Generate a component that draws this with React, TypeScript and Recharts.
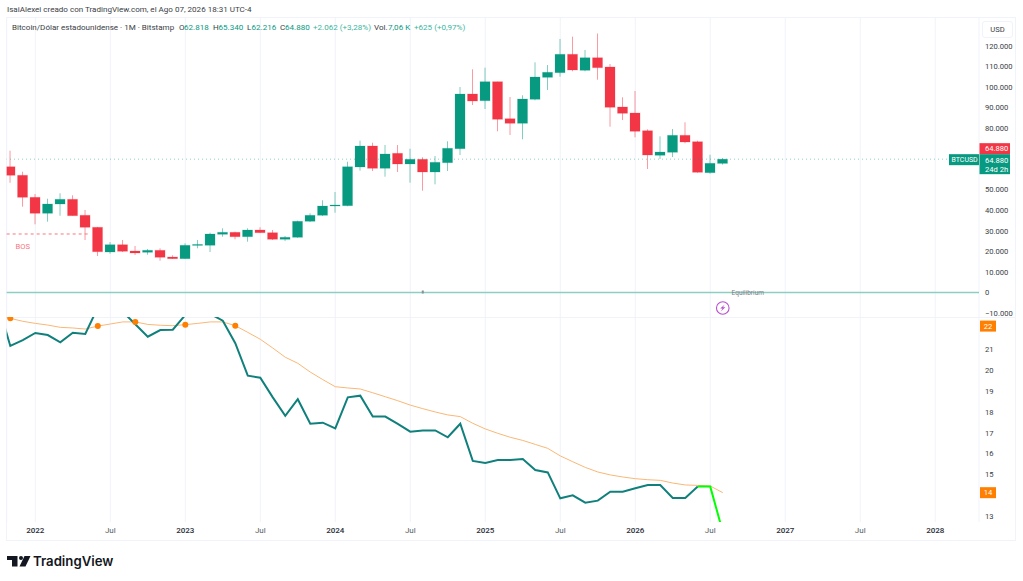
import {
  Bar,
  CartesianGrid,
  ComposedChart,
  Line,
  ReferenceDot,
  ReferenceLine,
  XAxis,
  YAxis,
} from "recharts";

// month number, 0 = Jan 2022; candles start at -2 (Nov 2021)
const opens = [
  61200, 57030, 46320, 38540, 43060, 45350, 37570, 31730, 19700, 23260, 20190, 19560, 20530, 17270, 16450, 23100,
  22970, 28320, 29290, 27150, 30410, 29100, 25890, 26860, 34650, 37570, 42090, 42240, 61070, 71290, 60430, 67730,
  62530, 64820, 58640, 63160, 69970, 96590, 93330, 102580, 84570, 82330, 94010, 104700, 106960, 115910, 108120,
  114250, 109740, 90270, 87340, 78730, 66760, 68220, 76490, 73380, 58300, 62818,
];
const highs = [
  69000, 58780, 47930, 45640, 48270, 47300, 40140, 31900, 24570, 25550, 22630, 21170, 21500, 18100, 23940, 25550,
  29100, 31240, 29580, 31240, 31730, 30410, 27490, 34940, 38540, 44870, 48900, 63650, 73870, 72900, 71770, 71770,
  69970, 65790, 66420, 73570, 100000, 108600, 109400, 102600, 95130, 95960, 112000, 110700, 123360, 124500, 118000,
  126030, 111190, 94980, 98050, 79400, 76000, 79560, 82820, 73870, 67050, 65340,
];
const lows = [
  53400, 41750, 33190, 34450, 37370, 37370, 25550, 17760, 18880, 19700, 18250, 18390, 15470, 16300, 16450, 21510,
  19700, 27150, 25890, 24720, 29000, 25550, 25000, 26600, 34300, 37200, 38830, 42000, 59270, 59120, 56350, 58640,
  53430, 49540, 52650, 59120, 66900, 91240, 89300, 78440, 76640, 74550, 93500, 98540, 105000, 107630, 107630,
  103550, 80680, 83940, 75520, 60100, 64960, 65930, 72600, 58300, 57810, 62216,
];
const closes = [
  57030, 46320, 38540, 43060, 45350, 37370, 31730, 19850, 23260, 20050, 19220, 20530, 17130, 16450, 22970, 23400,
  28470, 29290, 27150, 30410, 29100, 25890, 26860, 34650, 37570, 42090, 42580, 61200, 71290, 60430, 67390, 62530,
  64820, 58640, 63350, 70170, 96590, 93180, 102580, 84280, 82330, 94160, 104860, 107150, 115910, 108270, 114250,
  109400, 90120, 87200, 78440, 66900, 68360, 76490, 73230, 58490, 62870, 64880,
];

// lower pane, starts one month earlier (Oct 2021) because the line enters from off screen
const mainLine = [
  23.2, 21.16, 21.44, 21.78, 21.68, 21.33, 21.79, 21.73, 23.0, 23.5, 22.8, 22.2, 21.6, 21.92, 21.94, 22.64, 22.8,
  22.69, 22.37, 21.29, 19.74, 19.64, 18.7, 17.82, 18.61, 17.44, 17.49, 17.22, 18.7, 18.78, 17.78, 17.78, 17.43,
  17.06, 17.11, 17.12, 16.79, 17.44, 15.66, 15.56, 15.7, 15.7, 15.75, 15.22, 15.11, 13.87, 14.01, 13.66, 13.76,
  14.19, 14.19, 14.35, 14.51, 14.51, 13.89, 13.89, 14.43, 14.43, 12.27,
];
const signalLine = [
  22.6, 22.48, 22.34, 22.24, 22.16, 22.05, 22.02, 21.97, 22.11, 22.21, 22.31, 22.31, 22.19, 22.15, 22.13, 22.18,
  22.24, 22.31, 22.31, 22.13, 21.81, 21.48, 21.06, 20.62, 20.33, 19.91, 19.55, 19.21, 19.15, 19.1, 18.92, 18.73,
  18.54, 18.33, 18.16, 18.0, 17.86, 17.78, 17.46, 17.19, 16.98, 16.79, 16.64, 16.45, 16.26, 15.9, 15.62, 15.35,
  15.13, 14.99, 14.89, 14.81, 14.76, 14.73, 14.6, 14.51, 14.49, 14.46, 14.14,
];
const signalDotMonths = [-2, 5, 8, 12, 16];
const greenFromMonth = 53;

const monthTicks = [0, 6, 12, 18, 24, 30, 36, 42, 48, 54, 60, 66, 72];
const monthLabels = ["2022", "Jul", "2023", "Jul", "2024", "Jul", "2025", "Jul", "2026", "Jul", "2027", "Jul", "2028"];
const priceTicks = [120000, 110000, 100000, 90000, 80000, 50000, 40000, 30000, 20000, 10000, 0, -10000];
const lowerTicks = [21, 20, 19, 18, 17, 16, 15, 13];
const lastPrice = 64880;
const bosLevel = 28470;

const table = signalLine.map((signal, i) => {
  const m = i - 3;
  const c = i - 1;
  return {
    m,
    signal,
    teal: m <= greenFromMonth ? mainLine[i] : null,
    green: m >= greenFromMonth ? mainLine[i] : null,
    open: opens[c],
    high: highs[c],
    low: lows[c],
    close: closes[c],
  };
});

const UP = "#089981";
const DOWN = "#f23645";
const GRID = "#f0f3fa";
const FONT = "Roboto, sans-serif";
const TEXT = "#3a3e45";
const X_DOMAIN: [number, number] = [-2.29, 75.5];

function Candle(props: any) {
  const { x, y, width, height, payload } = props;
  if (payload.high == null) return null;
  const toY = (v: number) => y + ((payload.high - v) / (payload.high - payload.low)) * height;
  const up = payload.close >= payload.open;
  const color = up ? UP : DOWN;
  const top = toY(Math.max(payload.open, payload.close));
  const bottom = toY(Math.min(payload.open, payload.close));
  const cx = x + width / 2;
  return (
    <g>
      <line x1={cx} x2={cx} y1={y} y2={y + height} stroke={color} strokeOpacity={0.5} strokeWidth={1} />
      <rect
        x={x}
        y={top}
        width={width}
        height={Math.max(bottom - top, 1)}
        fill={color}
        stroke={color}
        strokeOpacity={0.2}
        strokeWidth={1}
      />
    </g>
  );
}

function MonthTick({ x, y, payload }: any) {
  const label = monthLabels[monthTicks.indexOf(payload.value)];
  return (
    <text
      x={x}
      y={y + 3}
      textAnchor="middle"
      fontSize={8}
      fontFamily={FONT}
      fill={label === "Jul" ? "#555a63" : "#2a2e35"}
      fontWeight={label === "Jul" ? 400 : 500}
    >
      {label}
    </text>
  );
}

function PriceTags({ cx, cy }: any) {
  return (
    <g fontFamily={FONT} fontSize={7.6} fill="#fff">
      <rect x={cx - 30} y={cy - 5} width={30} height={11} fill={UP} />
      <text x={cx - 27.5} y={cy + 3} fontSize={7}>BTCUSD</text>
      <rect x={cx + 0.5} y={cy - 16} width={30.5} height={11} fill={DOWN} />
      <text x={cx + 6} y={cy - 8}>64.880</text>
      <rect x={cx + 0.5} y={cy - 5} width={30.5} height={20} fill={UP} />
      <text x={cx + 6} y={cy + 3.5}>64.880</text>
      <text x={cx + 6} y={cy + 12.5}>24d 2h</text>
    </g>
  );
}

function OrangeTag({ cx, cy, label }: any) {
  return (
    <g fontFamily={FONT}>
      <rect x={cx + 1} y={cy - 5.5} width={16} height={11} fill="#ff7f00" />
      <text x={cx + 9} y={cy + 2.7} textAnchor="middle" fontSize={7.6} fill="#fff">
        {label}
      </text>
    </g>
  );
}

function EquilibriumText({ cx, cy }: any) {
  return (
    <text x={cx} y={cy + 2} textAnchor="middle" fontSize={6.5} fontFamily={FONT} fill="#7b7f87">
      Equilibrium
    </text>
  );
}

function BosText({ cx, cy }: any) {
  return (
    <text x={cx} y={cy + 15} textAnchor="middle" fontSize={7.6} fontFamily={FONT} fill="#f7777f">
      BOS
    </text>
  );
}

function BoltIcon({ cx, cy }: any) {
  return (
    <g>
      <circle cx={cx} cy={cy} r={6.3} fill="#fff" stroke="#b94fd0" strokeWidth={1.1} />
      <path
        d={`M${cx + 2} ${cy - 3.6} L${cx - 2.6} ${cy + 0.6} L${cx - 0.2} ${cy + 0.6} L${cx - 2} ${cy + 3.6} L${cx + 2.6} ${cy - 0.8} L${cx + 0.2} ${cy - 0.8} Z`}
        fill="#b94fd0"
      />
    </g>
  );
}

function SmallMark({ cx, cy }: any) {
  return <rect x={cx - 1} y={cy - 2} width={2} height={3} fill="#8a8e96" />;
}

function SignalDot({ cx, cy, payload }: any) {
  if (!signalDotMonths.includes(payload.m)) return <g key={payload.m} />;
  return <circle key={payload.m} cx={cx} cy={cy} r={3} fill="#ff7f00" />;
}

const priceTick = (v: number) => v.toLocaleString("de-DE").replace("-", "\u2212");

function LegendItem({ left, color, children }: any) {
  return <span style={{ position: "absolute", left, top: 0, color }}>{children}</span>;
}

function Legend() {
  const light = "#3bb59e";
  return (
    <div
      style={{
        position: "absolute",
        left: 0,
        top: 23,
        fontFamily: FONT,
        fontSize: 8.05,
        lineHeight: "10px",
        color: TEXT,
        whiteSpace: "nowrap",
      }}
    >
      <LegendItem left={12}>Bitcoin/Dólar estadounidense · 1M · Bitstamp</LegendItem>
      <LegendItem left={179}>O</LegendItem>
      <LegendItem left={184} color={UP}>62.818</LegendItem>
      <LegendItem left={213}>H</LegendItem>
      <LegendItem left={218.5} color={UP}>65.340</LegendItem>
      <LegendItem left={247}>L</LegendItem>
      <LegendItem left={251.5} color={UP}>62.216</LegendItem>
      <LegendItem left={280}>C</LegendItem>
      <LegendItem left={285} color={UP}>64.880</LegendItem>
      <LegendItem left={313} color={light}>+2.062 (+3,28%)</LegendItem>
      <LegendItem left={374}>Vol.</LegendItem>
      <LegendItem left={388} color={UP}>7,06 K</LegendItem>
      <LegendItem left={414} color={light}>+625 (+0,97%)</LegendItem>
    </div>
  );
}

function Logo() {
  return (
    <div style={{ position: "absolute", left: 7, top: 552, height: 18 }}>
      <svg width={24} height={12} style={{ position: "absolute", left: 0, top: 3.5 }}>
        <path d="M0 0H10.5V10.5H5V4H0Z" fill="#131722" />
        <circle cx={14} cy={2} r={2} fill="#131722" />
        <path d="M17.5 0H23.5L18.5 10.5H12.5Z" fill="#131722" />
      </svg>
      <span
        style={{
          position: "absolute",
          left: 26,
          top: 0,
          fontFamily: "Inter, sans-serif",
          fontWeight: 600,
          fontSize: 13.2,
          lineHeight: "18px",
          color: "#131722",
        }}
      >
        TradingView
      </span>
    </div>
  );
}

export default function App() {
  return (
    <div
      style={{
        position: "absolute",
        left: 0,
        top: 0,
        width: 1023,
        height: 581,
        background: "#fff",
        overflow: "hidden",
      }}
    >
      <div
        style={{
          position: "absolute",
          left: 7,
          top: 4.5,
          fontFamily: FONT,
          fontSize: 8.05,
          lineHeight: "10px",
          color: TEXT,
          whiteSpace: "nowrap",
        }}
      >
        IsaiAlexei creado con TradingView.com, el Ago 07, 2026 18:31 UTC-4
      </div>
      <div
        style={{
          position: "absolute",
          left: 6,
          top: 17,
          width: 1010,
          height: 524,
          border: `1px solid ${GRID}`,
          boxSizing: "border-box",
        }}
      />
      <div style={{ position: "absolute", left: 6, top: 317, width: 1010, height: 1, background: GRID }} />
      <div style={{ position: "absolute", left: 0, top: 0 }}>
        <ComposedChart
          width={1023}
          height={317}
          data={table}
          margin={{ top: 17, right: 7, left: 6.67, bottom: 0 }}
        >
          <CartesianGrid vertical horizontal={false} stroke={GRID} />
          <XAxis
            dataKey="m"
            type="number"
            hide
            domain={X_DOMAIN}
            ticks={monthTicks}
            allowDataOverflow
          />
          <YAxis
            orientation="right"
            width={37}
            domain={[-11920, 134060]}
            ticks={priceTicks}
            interval={0}
            axisLine={false}
            tickLine={false}
            tickSize={0}
            tickMargin={6}
            tick={{ fontSize: 7.6, fontFamily: FONT, fill: TEXT }}
            tickFormatter={priceTick}
            allowDataOverflow
          />
          <ReferenceLine y={0} stroke="#8ccfc2" strokeWidth={1.5} />
          <ReferenceLine y={lastPrice} stroke={UP} strokeOpacity={0.45} strokeDasharray="1 3" />
          <ReferenceLine
            segment={[
              { x: X_DOMAIN[0], y: bosLevel },
              { x: 4.4, y: bosLevel },
            ]}
            stroke="#f7777f"
            strokeDasharray="3 3"
          />
          <ReferenceDot x={-1} y={bosLevel} shape={BosText} ifOverflow="visible" />
          <ReferenceDot x={57} y={0} shape={EquilibriumText} ifOverflow="visible" />
          <ReferenceDot x={31} y={0} shape={SmallMark} ifOverflow="visible" />
          <ReferenceDot x={55} y={-7540} shape={BoltIcon} ifOverflow="visible" />
          <Bar
            dataKey={(d: any) => (d.high == null ? null : [d.low, d.high])}
            barSize={10}
            shape={Candle}
            isAnimationActive={false}
          />
          <ReferenceDot x={X_DOMAIN[1]} y={lastPrice} shape={PriceTags} ifOverflow="visible" />
        </ComposedChart>
      </div>
      <div style={{ position: "absolute", left: 0, top: 317 }}>
        <ComposedChart
          width={1023}
          height={224}
          data={table}
          margin={{ top: 0, right: 7, left: 6.67, bottom: 0 }}
        >
          <CartesianGrid vertical horizontal={false} stroke={GRID} />
          <XAxis
            dataKey="m"
            type="number"
            height={19}
            domain={X_DOMAIN}
            ticks={monthTicks}
            interval={0}
            axisLine={false}
            tickLine={false}
            tick={MonthTick}
            allowDataOverflow
          />
          <YAxis
            orientation="right"
            width={37}
            domain={[12.737, 22.545]}
            ticks={lowerTicks}
            interval={0}
            axisLine={false}
            tickLine={false}
            tickSize={0}
            tickMargin={6}
            tick={{ fontSize: 7.6, fontFamily: FONT, fill: TEXT }}
            allowDataOverflow
          />
          <Line
            dataKey="signal"
            stroke="#f9b777"
            strokeWidth={1}
            dot={SignalDot}
            activeDot={false}
            isAnimationActive={false}
          />
          <Line dataKey="teal" stroke="#10807c" strokeWidth={2} dot={false} isAnimationActive={false} />
          <Line dataKey="green" stroke="#00ff00" strokeWidth={2} dot={false} isAnimationActive={false} />
          <ReferenceDot
            x={X_DOMAIN[1]}
            y={22.11}
            shape={(p: any) => <OrangeTag {...p} label="22" />}
            ifOverflow="visible"
          />
          <ReferenceDot
            x={X_DOMAIN[1]}
            y={14.14}
            shape={(p: any) => <OrangeTag {...p} label="14" />}
            ifOverflow="visible"
          />
        </ComposedChart>
      </div>
      <div
        style={{
          position: "absolute",
          left: 982,
          top: 20.5,
          width: 31,
          height: 17,
          border: `1px solid ${GRID}`,
          borderRadius: 3,
          boxSizing: "border-box",
          background: "#fff",
          fontFamily: FONT,
          fontSize: 7.6,
          lineHeight: "15px",
          textAlign: "center",
          color: TEXT,
        }}
      >
        USD
      </div>
      <Legend />
      <Logo />
    </div>
  );
}
